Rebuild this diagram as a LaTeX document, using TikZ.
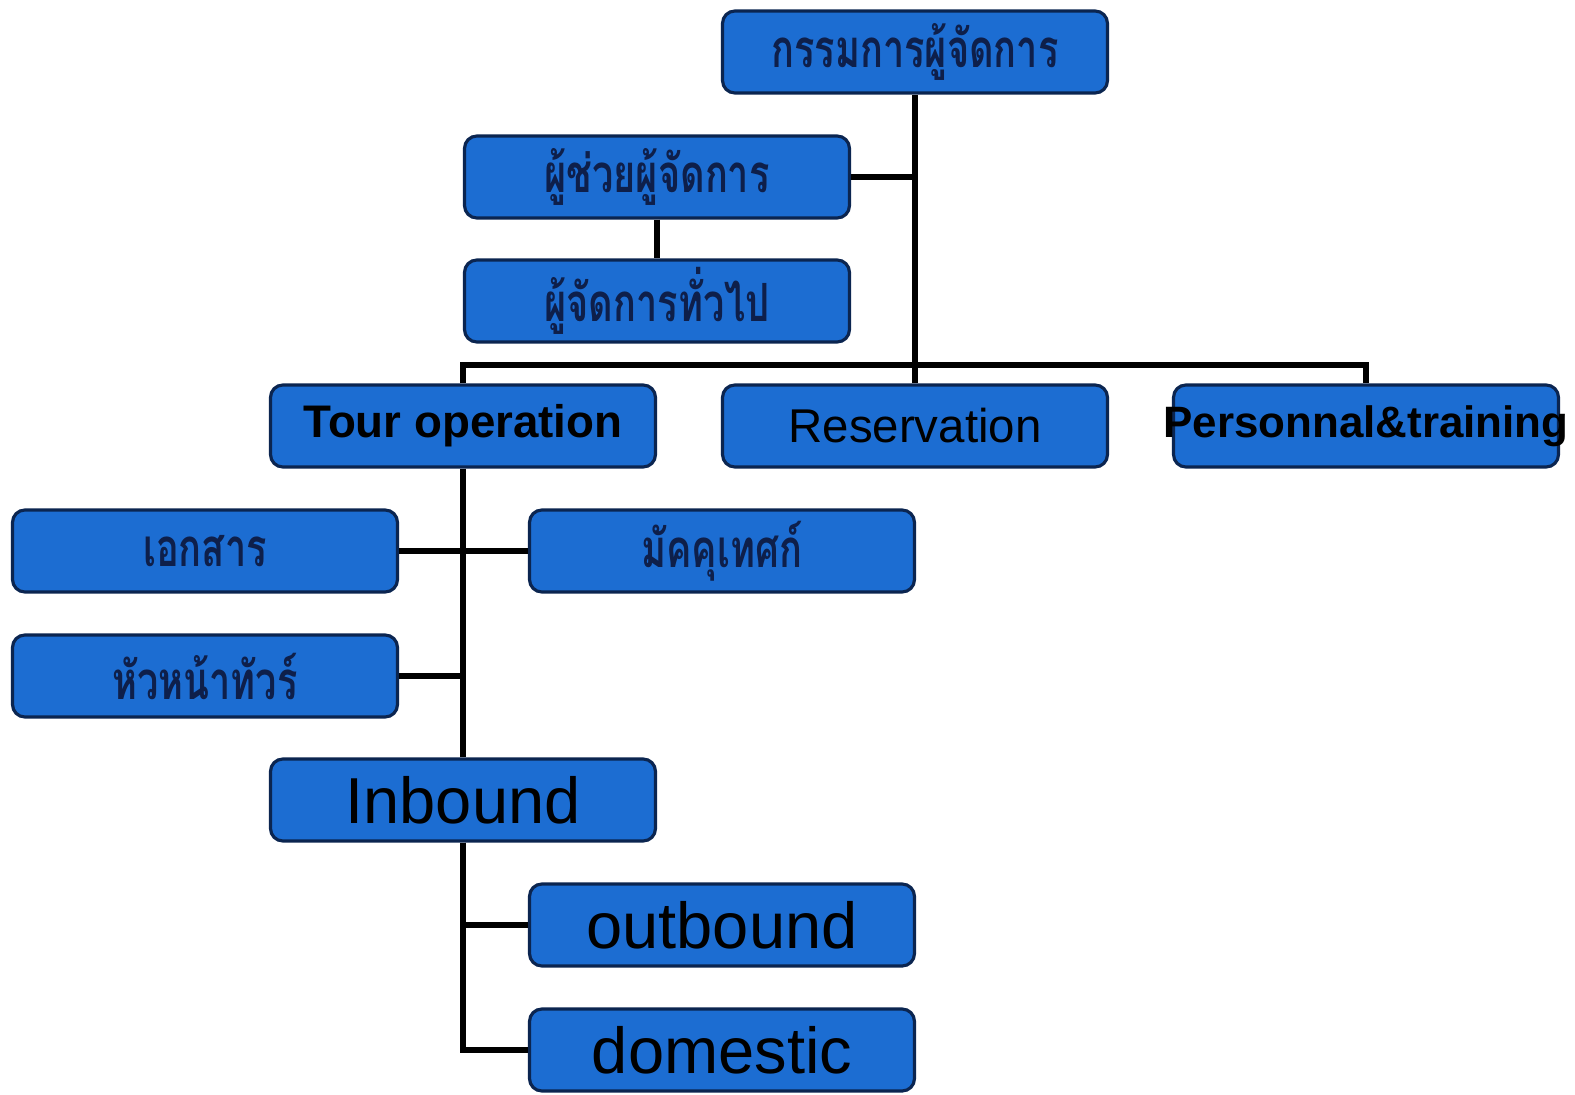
\documentclass[tikz,border=0pt]{standalone}
\usepackage{fontspec}
\usepackage{graphicx}
\setmainfont{Liberation Sans}
\newfontfamily\thaifont[Script=Thai]{Loma}
\newcommand{\thaitext}[1]{{\color{thaiink}\thaifont\bfseries\fontsize{30}{36}\selectfont\scalebox{0.72}[1]{#1}}}
\definecolor{boxblue}{HTML}{1C6DD2}
\definecolor{boxedge}{HTML}{0B2550}
\definecolor{thaiink}{HTML}{0E1F4A}

\begin{document}
\begin{tikzpicture}[
        x=0.02cm, y=-0.02cm,
        unit/.style={rectangle, rounded corners=7pt, draw=boxedge, line width=1.8pt, fill=boxblue, minimum width=7.7cm, minimum height=1.64cm, inner sep=0pt, align=center},
        link/.style={line width=2.9pt, black}
    ]

    \fill[white] (0,0) rectangle (1575,1095);
    \useasboundingbox (0,0) rectangle (1575,1095);

    % Management
    \node[unit] (md) at (915,52) {\thaitext{กรรมการผู้จัดการ}};
    \node[unit] (asst) at (657,177) {\thaitext{ผู้ช่วยผู้จัดการ}};
    \node[unit] (gm) at (657,301) {\thaitext{ผู้จัดการทั่วไป}};

    % Departments
    \node[unit] (tour) at (463,426) {\fontsize{26}{30}\selectfont\bfseries Tour operation};
    \node[unit] (res) at (915,426) {\fontsize{27}{30}\selectfont Reservation};
    \node[unit] (pers) at (1366,426) {\makebox[7cm]{\fontsize{25}{30}\selectfont\bfseries Personnal\&training}};

    % Tour operation staff
    \node[unit] (doc) at (205,551) {\thaitext{เอกสาร}};
    \node[unit] (guide) at (722,551) {\thaitext{มัคคุเทศก์}};
    \node[unit] (lead) at (205,676) {\thaitext{หัวหน้าทัวร์}};

    % Markets
    \node[unit] (inb) at (463,800) {\fontsize{37}{40}\selectfont Inbound};
    \node[unit] (outb) at (722,925) {\fontsize{37}{40}\selectfont outbound};
    \node[unit] (dom) at (722,1050) {\fontsize{37}{40}\selectfont domestic};

    % Connectors
    \coordinate (bus) at (915,365);
    \draw[link] (md) -- (res);
    \draw[link] (asst.east) -- (asst.east -| md.south);
    \draw[link] (asst) -- (gm);
    \draw[link] (tour.north) |- (bus) -| (pers.north);
    \draw[link] (tour) -- (inb);
    \draw[link] (doc.east) -- (guide.west);
    \draw[link] (lead.east) -- (lead.east -| tour.south);
    \draw[link] (inb.south) |- (outb.west);
    \draw[link] (inb.south) |- (dom.west);

\end{tikzpicture}
\end{document}
